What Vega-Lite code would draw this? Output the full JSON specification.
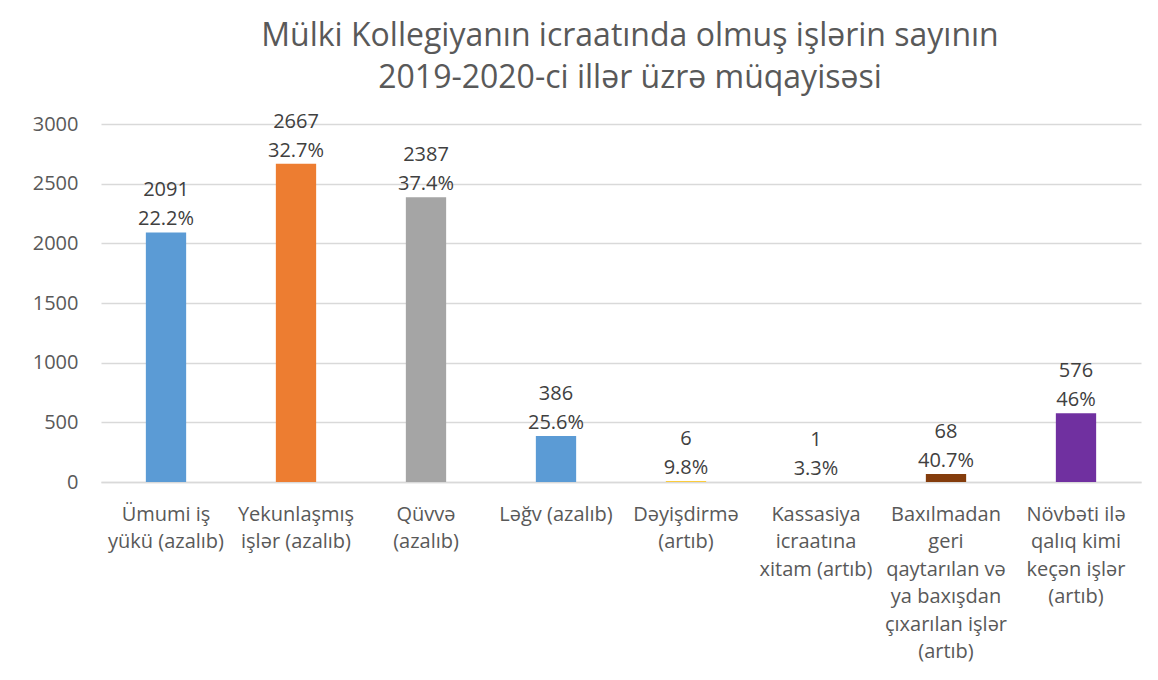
{
  "$schema": "https://vega.github.io/schema/vega-lite/v6.json",
  "autosize": {"type": "none"},
  "width": 1040,
  "height": 358,
  "padding": {"left": 101, "top": 124, "right": 17, "bottom": 198},
  "background": "white",
  "title": {
    "text": ["Mülki Kollegiyanın icraatında olmuş işlərin sayının", "2019-2020-ci illər üzrə müqayisəsi"],
    "font": "Open Sans",
    "fontSize": 32,
    "fontWeight": "normal",
    "color": "#595959",
    "lineHeight": 42,
    "anchor": "middle",
    "dx": 9,
    "offset": 17
  },
  "data": {
    "values": [
      {"cat": "Ümumi iş|yükü (azalıb)", "count": 2091, "pct": "22.2%"},
      {"cat": "Yekunlaşmış|işlər (azalıb)", "count": 2667, "pct": "32.7%"},
      {"cat": "Qüvvə|(azalıb)", "count": 2387, "pct": "37.4%"},
      {"cat": "Ləğv (azalıb)", "count": 386, "pct": "25.6%"},
      {"cat": "Dəyişdirmə|(artıb)", "count": 6, "pct": "9.8%"},
      {"cat": "Kassasiya|icraatına|xitam (artıb)", "count": 1, "pct": "3.3%"},
      {"cat": "Baxılmadan|geri|qaytarılan və|ya baxışdan|çıxarılan işlər|(artıb)", "count": 68, "pct": "40.7%"},
      {"cat": "Növbəti ilə|qalıq kimi|keçən işlər|(artıb)", "count": 576, "pct": "46%"}
    ]
  },
  "encoding": {
    "x": {
      "field": "cat", "type": "nominal", "sort": null, "title": null,
      "scale": {"paddingInner": 0.69, "paddingOuter": 0.345},
      "axis": {
        "labelExpr": "split(datum.label, '|')",
        "labelAngle": 0,
        "labelFont": "Open Sans",
        "labelFontSize": 20,
        "labelColor": "#595959",
        "labelLineHeight": 27.5,
        "labelPadding": 22,
        "labelLimit": 200,
        "ticks": false,
        "domainColor": "#D9D9D9",
        "domainWidth": 1.5
      }
    },
    "y": {
      "field": "count", "type": "quantitative", "title": null,
      "scale": {"domain": [0, 3000]},
      "axis": {
        "values": [0, 500, 1000, 1500, 2000, 2500, 3000],
        "format": "d",
        "labelFont": "Open Sans",
        "labelFontSize": 20,
        "labelColor": "#595959",
        "labelPadding": 23,
        "ticks": false,
        "domain": false,
        "gridColor": "#D9D9D9",
        "gridWidth": 1.5
      }
    }
  },
  "layer": [
    {
      "mark": {"type": "bar"},
      "encoding": {
        "color": {
          "field": "cat", "type": "nominal", "legend": null,
          "scale": {
            "domain": ["Ümumi iş|yükü (azalıb)", "Yekunlaşmış|işlər (azalıb)", "Qüvvə|(azalıb)", "Ləğv (azalıb)", "Dəyişdirmə|(artıb)", "Kassasiya|icraatına|xitam (artıb)", "Baxılmadan|geri|qaytarılan və|ya baxışdan|çıxarılan işlər|(artıb)", "Növbəti ilə|qalıq kimi|keçən işlər|(artıb)"],
            "range": ["#5B9BD5", "#ED7D31", "#A5A5A5", "#5B9BD5", "#FFC000", "#4472C4", "#843C0C", "#7030A0"]
          }
        }
      }
    },
    {
      "mark": {"type": "text", "font": "Open Sans", "fontSize": 20, "color": "#404040", "baseline": "middle", "dy": -13},
      "encoding": {"text": {"field": "pct"}}
    },
    {
      "mark": {"type": "text", "font": "Open Sans", "fontSize": 20, "color": "#404040", "baseline": "middle", "dy": -42},
      "encoding": {"text": {"field": "count", "type": "quantitative", "format": "d"}}
    }
  ],
  "config": {"view": {"stroke": null}}
}
